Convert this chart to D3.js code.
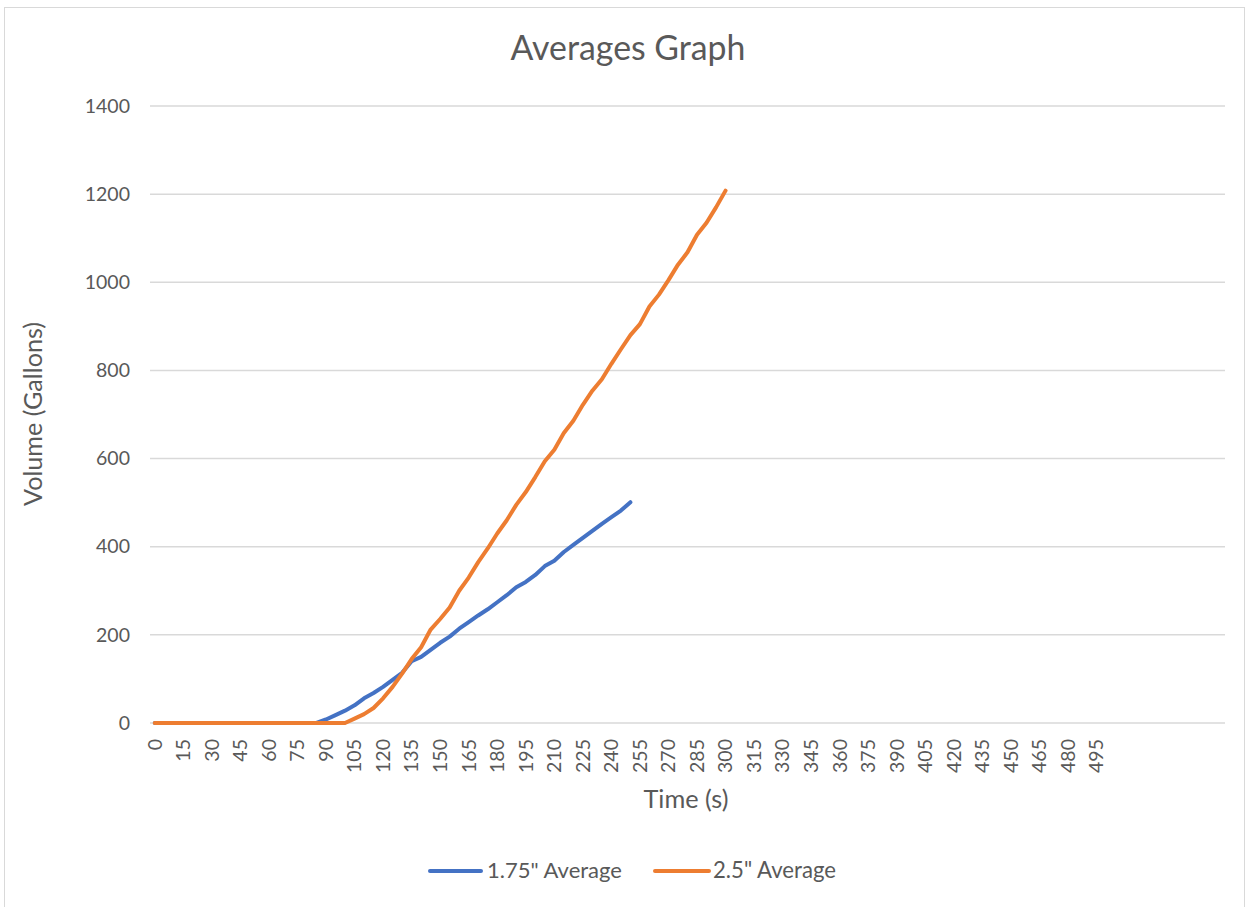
<!DOCTYPE html>
<html>
<head>
<meta charset="utf-8">
<script src="https://cdn.jsdelivr.net/npm/d3@7"></script>
<style>
  html, body { margin: 0; padding: 0; background: #ffffff; }
  svg { display: block; }
  text { font-family: Lato, "Open Sans", sans-serif; fill: #595959; }
</style>
</head>
<body>
<svg id="chart" width="1250" height="907"></svg>
<script>
// Time categories (seconds), one every 5 s; the trailing slots are blank rows.
const timeStep = 5;
const categories = d3.range(0, 500, timeStep).map(String).concat(Array(13).fill(""));
// Every third category carries a label.
const tickLabels = ["0","15","30","45","60","75","90","105","120","135","150","165","180",
  "195","210","225","240","255","270","285","300","315","330","345","360","375","390",
  "405","420","435","450","465","480","495"];
const yTicks = [0, 200, 400, 600, 800, 1000, 1200, 1400];

// Volume in gallons at each 5 s step, starting at t = 0.
const avg175 = [0,0,0,0,0,0,0,0,0,0,0,0,0,0,0,0,0,0,
  8,18,28,40,56,68,82,98,114,140,150,166,182,196,214,229,244,258,274,290,
  308,320,336,356,368,388,404,420,436,452,467,482,501];
const avg25 = [0,0,0,0,0,0,0,0,0,0,0,0,0,0,0,0,0,0,0,0,0,
  10,20,34,56,82,112,145,172,212,236,262,300,330,365,396,430,460,495,524,
  558,594,620,658,686,722,754,780,815,848,880,905,945,972,1005,1040,1068,
  1108,1135,1170,1208];

const seriesNames = ["1.75\" Average", "2.5\" Average"];
const seriesColors = ["#4472C4", "#ED7D31"];
const seriesData = [avg175, avg25];

const svg = d3.select("#chart");

// scale a text's font size so it spans the given width
function fitWidth(sel, width) {
  const node = sel.node();
  const fs = parseFloat(sel.attr("font-size"));
  const w = node.getComputedTextLength();
  if (w > 0) sel.attr("font-size", (fs * width / w).toFixed(2));
  return sel;
}

// outer chart frame
svg.append("rect")
  .attr("x", 4.5).attr("y", 7.5)
  .attr("width", 1240).attr("height", 905)
  .attr("fill", "#fff").attr("stroke", "#d9d9d9").attr("stroke-width", 1);

const plot = { left: 150, right: 1225, top: 106, bottom: 723 };

const x = d3.scaleBand()
  .domain(d3.range(categories.length))
  .range([plot.left, plot.right]);
const xc = i => x(i) + x.bandwidth() / 2;

const y = d3.scaleLinear().domain([0, 1400]).range([plot.bottom, plot.top]);

// horizontal gridlines
svg.append("g")
  .selectAll("line")
  .data(yTicks)
  .join("line")
  .attr("x1", plot.left).attr("x2", plot.right)
  .attr("y1", d => y(d)).attr("y2", d => y(d))
  .attr("stroke", "#d9d9d9").attr("stroke-width", 1.5);

// y axis labels
const yAxis = d3.axisLeft(y).tickValues(yTicks).tickFormat(d3.format("d"))
  .tickSize(0).tickPadding(0);
svg.append("g")
  .attr("transform", `translate(${plot.left - 20},0)`)
  .call(yAxis)
  .call(g => g.select(".domain").remove())
  .call(g => g.selectAll("text")
    .attr("font-size", 19.5)
    .attr("fill", "#595959")
    .style("font-family", "Lato, sans-serif"));

// x axis: rotated category labels
const labelSet = new Set(tickLabels);
const xAxis = d3.axisBottom(x)
  .tickValues(d3.range(categories.length).filter(i => labelSet.has(categories[i])))
  .tickFormat(i => categories[i])
  .tickSize(0);
svg.append("g")
  .attr("transform", `translate(0,${plot.bottom})`)
  .call(xAxis)
  .call(g => g.select(".domain").remove())
  .call(g => g.selectAll("text")
    .attr("font-size", 19.5)
    .attr("fill", "#595959")
    .style("font-family", "Lato, sans-serif")
    .attr("text-anchor", "end")
    .attr("dy", "0.35em")
    .attr("y", 0)
    .attr("transform", "translate(0,16) rotate(-90)"));

// series lines
const line = d3.line()
  .x((d, i) => xc(i))
  .y(d => y(d));

svg.append("g")
  .selectAll("path")
  .data(seriesData)
  .join("path")
  .attr("d", d => line(d))
  .attr("fill", "none")
  .attr("stroke", (d, i) => seriesColors[i])
  .attr("stroke-width", 4)
  .attr("stroke-linejoin", "round")
  .attr("stroke-linecap", "round");

// title
fitWidth(svg.append("text")
  .attr("x", 628).attr("y", 60)
  .attr("text-anchor", "middle")
  .attr("font-size", 30)
  .text("Averages Graph"), 235);

// axis titles
fitWidth(svg.append("text")
  .attr("transform", "translate(42,414) rotate(-90)")
  .attr("text-anchor", "middle")
  .attr("font-size", 22)
  .text("Volume (Gallons)"), 184);

fitWidth(svg.append("text")
  .attr("x", 686).attr("y", 808)
  .attr("text-anchor", "middle")
  .attr("font-size", 22)
  .text("Time (s)"), 85);

// legend
const legendItems = [
  { x1: 430, x2: 481, tx: 487, w: 135 },
  { x1: 655, x2: 709, tx: 713, w: 123 }
];
const legend = svg.append("g");
legendItems.forEach((it, i) => {
  legend.append("line")
    .attr("x1", it.x1).attr("x2", it.x2)
    .attr("y1", 871).attr("y2", 871)
    .attr("stroke", seriesColors[i]).attr("stroke-width", 4)
    .attr("stroke-linecap", "round");
  fitWidth(legend.append("text")
    .attr("x", it.tx).attr("y", 878)
    .attr("font-size", 20)
    .text(seriesNames[i]), it.w);
});
</script>
</body>
</html>
